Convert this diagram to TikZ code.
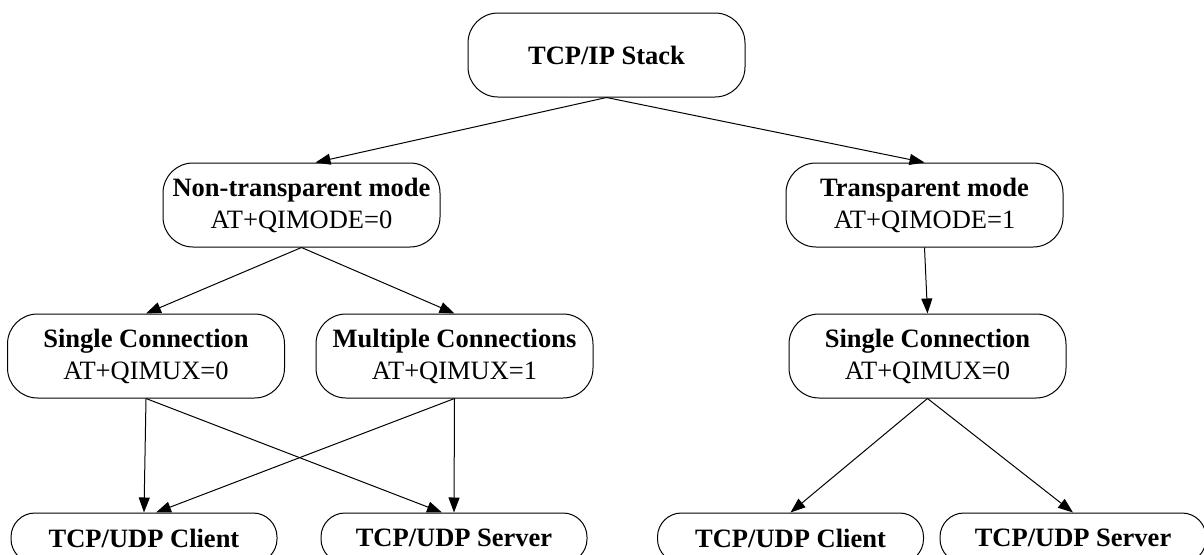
\documentclass[tikz,border=0pt]{standalone}
\usepackage{fontspec}
\setmainfont{Liberation Serif}
\usetikzlibrary{arrows.meta,calc}
\begin{document}
\begin{tikzpicture}[x=1pt,y=-1pt,
  box/.style={draw,line width=1pt,rounded corners=30pt,minimum width=277pt,minimum height=84pt,
              align=center,inner sep=0pt,font=\fontsize{26.5}{32}\selectfont},
  leaf/.style={box,minimum width=266pt,minimum height=50pt,rounded corners=24pt},
  arr/.style={line width=1pt,-{Triangle[length=15pt,width=11pt]}}]
\useasboundingbox (0,0) rectangle (1204,554);

\node[box] (tcp) at (606.5,55) {\textbf{TCP/IP Stack}};
\node[box] (nt) at (301.5,205) {\textbf{Non-transparent mode}\\AT+QIMODE=0};
\node[box] (tm) at (924.5,205) {\textbf{Transparent mode}\\AT+QIMODE=1};
\node[box] (s1) at (146,356) {\textbf{Single Connection}\\AT+QIMUX=0};
\node[box] (mc) at (454.5,356) {\textbf{Multiple Connections}\\AT+QIMUX=1};
\node[box] (s2) at (927.5,356) {\textbf{Single Connection}\\AT+QIMUX=0};
\node[leaf] (c1) at (144,538) {\textbf{TCP/UDP Client}};
\node[leaf] (v1) at (454,538) {\textbf{TCP/UDP Server}};
\node[leaf] (c2) at (790.5,538) {\textbf{TCP/UDP Client}};
\node[leaf] (v2) at (1073,538) {\textbf{TCP/UDP Server}};

\draw[arr] (tcp.south) -- ($(nt.north)+(14,0)$);
\draw[arr] (tcp.south) -- (tm.north);
\draw[arr] (nt.south) -- (s1.north);
\draw[arr] (nt.south) -- (mc.north);
\draw[arr] (tm.south) -- (s2.north);
\draw[arr] (s1.south) -- (c1.north);
\draw[arr] (s1.south) -- ($(v1.north)+(-12,0)$);
\draw[arr] (mc.south) -- (v1.north);
\draw[arr] (mc.south) -- ($(c1.north)+(12,0)$);
\draw[arr] (s2.south) -- (c2.north);
\draw[arr] (s2.south) -- (v2.north);
\end{tikzpicture}
\end{document}
